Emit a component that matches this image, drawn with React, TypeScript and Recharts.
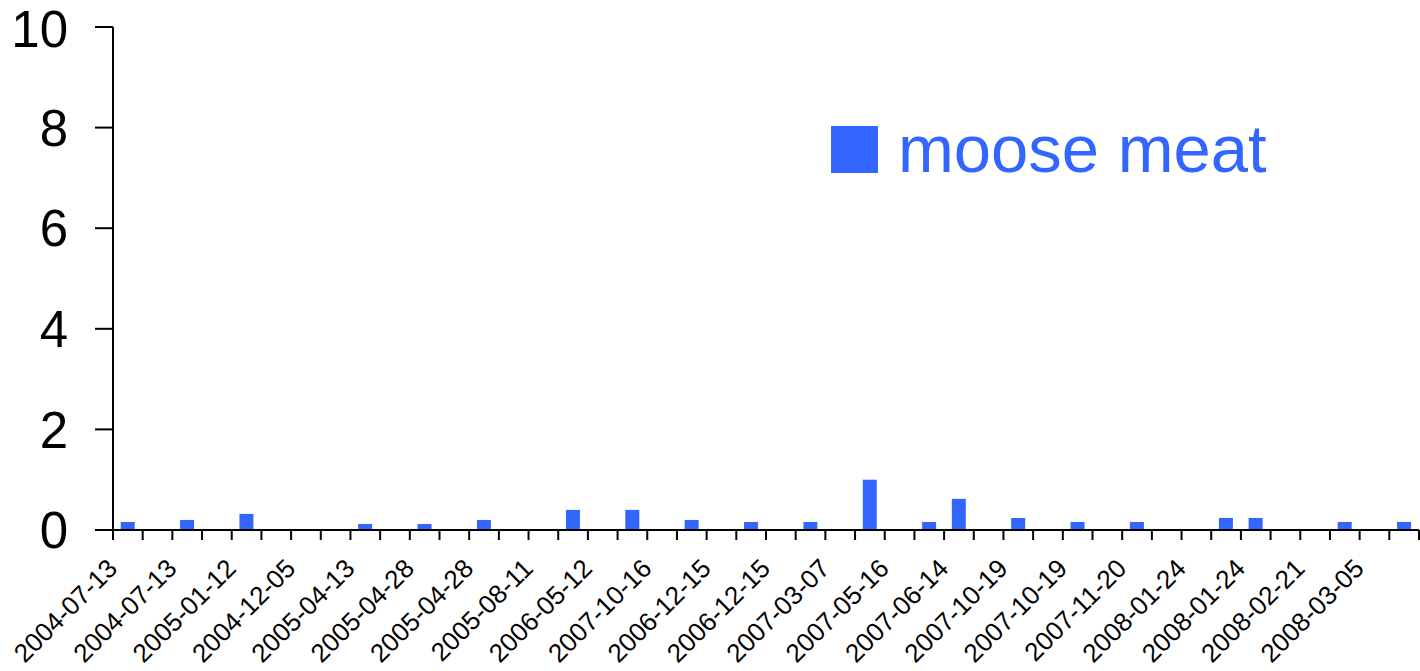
import React from 'react'
import { BarChart, Bar, XAxis, YAxis } from 'recharts'

// every other category carries a label; the rest are unlabeled
const tickLabels = [
  '2004-07-13', '2004-07-13', '2005-01-12', '2004-12-05', '2005-04-13', '2005-04-28',
  '2005-04-28', '2005-08-11', '2006-05-12', '2007-10-16', '2006-12-15', '2006-12-15',
  '2007-03-07', '2007-05-16', '2007-06-14', '2007-10-19', '2007-10-19', '2007-11-20',
  '2008-01-24', '2008-01-24', '2008-02-21', '2008-03-05',
]

const mooseMeat = [
  0.16, 0, 0.2, 0, 0.32, 0, 0, 0, 0.12, 0, 0.12, 0,
  0.2, 0, 0, 0.4, 0, 0.4, 0, 0.2, 0, 0.16, 0, 0.16,
  0, 1.0, 0, 0.16, 0.62, 0, 0.24, 0, 0.16, 0, 0.16, 0,
  0, 0.24, 0.24, 0, 0, 0.16, 0, 0.16,
]

const yTicks = [0, 2, 4, 6, 8, 10]

const BLUE = '#3366ff'
const FONT = '"Liberation Sans", Arial, sans-serif'

const WIDTH = 1420
const HEIGHT = 671
const LEFT = 113
const RIGHT = 1
const BAND = (WIDTH - LEFT - RIGHT) / mooseMeat.length

const data = mooseMeat.map((v, i) => ({
  name: i % 2 === 0 ? tickLabels[i / 2] : '',
  value: v,
}))

// draws the boundary tick marks and the rotated date labels
const DateTick = (props: any) => {
  const { x, y, payload, index } = props
  const last = index === mooseMeat.length - 1
  const lx = x - 9
  const ly = y + 40
  return (
    <g>
      <line x1={x - BAND / 2} x2={x - BAND / 2} y1={y} y2={y + 10} stroke="#000" strokeWidth={2} />
      {last && <line x1={x + BAND / 2} x2={x + BAND / 2} y1={y} y2={y + 10} stroke="#000" strokeWidth={2} />}
      {payload.value && (
        <text
          x={lx}
          y={ly}
          textAnchor="end"
          transform={`rotate(-45, ${lx}, ${ly})`}
          fontSize={26}
          fontFamily={FONT}
          fill="#000"
        >
          {payload.value}
        </text>
      )}
    </g>
  )
}

export default function App() {
  return (
    <div style={{ position: 'absolute', left: 0, top: 0, width: WIDTH, height: HEIGHT, background: '#fff' }}>
      <BarChart
        width={WIDTH}
        height={HEIGHT}
        data={data}
        margin={{ top: 27, right: RIGHT, left: 0, bottom: 0 }}
        barCategoryGap="26%"
      >
        <XAxis
          dataKey="name"
          interval={0}
          height={141}
          tickLine={false}
          tickSize={0}
          tickMargin={0}
          axisLine={{ stroke: '#000', strokeWidth: 2 }}
          tick={<DateTick />}
        />
        <YAxis
          width={LEFT}
          domain={[0, 10]}
          ticks={yTicks}
          tickSize={18}
          tickMargin={27}
          axisLine={{ stroke: '#000', strokeWidth: 2 }}
          tickLine={{ stroke: '#000', strokeWidth: 2 }}
          tick={{ fill: '#000', fontSize: 51, fontFamily: FONT }}
        />
        <Bar dataKey="value" name="moose meat" fill={BLUE} isAnimationActive={false} />
      </BarChart>
      <div style={{ position: 'absolute', left: 831, top: 126, width: 47, height: 47, background: BLUE }} />
      <span
        style={{
          position: 'absolute',
          left: 898,
          top: 115,
          fontSize: 67,
          lineHeight: '67px',
          fontFamily: FONT,
          color: BLUE,
          whiteSpace: 'nowrap',
        }}
      >
        moose meat
      </span>
    </div>
  )
}
